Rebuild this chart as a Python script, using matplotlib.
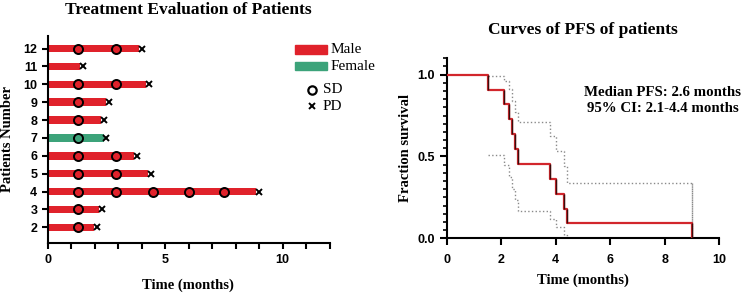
import matplotlib
matplotlib.use('Agg')
import matplotlib.pyplot as plt
from matplotlib.lines import Line2D
from matplotlib.patches import Rectangle

# swimmer plot data (patients 2..12)
patients = [2, 3, 4, 5, 6, 7, 8, 9, 10, 11, 12]
sex = ['M', 'M', 'M', 'M', 'M', 'F', 'M', 'M', 'M', 'M', 'M']
pd_time = [2.1, 2.3, 9.0, 4.4, 3.8, 2.5, 2.4, 2.6, 4.3, 1.5, 4.0]
sd_times = [[1.3], [1.3], [1.3, 2.9, 4.5, 6.0, 7.5], [1.3, 2.9], [1.3, 2.9],
            [1.3], [1.3], [1.3], [1.3, 2.9], [], [1.3, 2.9]]

# Kaplan-Meier PFS curve
km_t = [0, 1.5, 2.1, 2.3, 2.4, 2.5, 2.6, 3.8, 4.0, 4.3, 4.4, 9.0]
km_s = [1.0, 0.909, 0.818, 0.727, 0.636, 0.545, 0.455, 0.364, 0.273, 0.182, 0.091, 0.0]
ci_up_t = [1.5, 2.1, 2.3, 2.4, 2.5, 2.6, 3.8, 4.0, 4.3, 4.4, 9.0]
ci_up = [0.99, 0.96, 0.91, 0.84, 0.77, 0.71, 0.625, 0.535, 0.44, 0.335, 0.0]
ci_lo_t = [1.5, 2.1, 2.3, 2.4, 2.5, 2.6, 3.8, 4.0, 4.3, 4.4]
ci_lo = [0.51, 0.45, 0.375, 0.30, 0.235, 0.168, 0.12, 0.07, 0.02, 0.0]

RED = '#e0222b'
GREEN = '#3ca37a'
serif = 'Liberation Serif'
sans = 'Liberation Sans'

fig = plt.figure(figsize=(7.44, 2.95), dpi=100)

# ---------------- left: swimmer plot ----------------
ax1 = fig.add_axes([0.0641, 0.176, 0.3788, 0.702])
for p, s, t, sds in zip(patients, sex, pd_time, sd_times):
    c = RED if s == 'M' else GREEN
    ax1.barh(p, t - 0.12, height=0.42, left=0, color=c, zorder=2)
    ax1.plot(sds, [p] * len(sds), 'o', ms=6.5, mfc=c, mec='black', mew=1.4, zorder=3)
    ax1.plot([t], [p], 'x', ms=5, color='black', mew=1.4, zorder=4)

ax1.set_xlim(0, 12)
ax1.set_ylim(1.12, 12.7)
ax1.set_xticks(range(0, 13))
ax1.set_xticklabels([str(i) if i % 5 == 0 else '' for i in range(0, 13)])
ax1.set_yticks(patients)
for sp in ['top', 'right']:
    ax1.spines[sp].set_visible(False)
for sp in ['left', 'bottom']:
    ax1.spines[sp].set_linewidth(1.5)
ax1.tick_params(width=1.5, length=4)
ax1.tick_params(axis='x', pad=4)
for lab in ax1.get_xticklabels() + ax1.get_yticklabels():
    lab.set_fontfamily(sans)
    lab.set_fontweight('bold')
    lab.set_fontsize(9)
fig.text(8 / 744, 1 - 139.5 / 295, 'Patients Number', rotation=90, ha='center', va='center',
         fontfamily=serif, fontweight='bold', fontsize=10.5)
fig.text(188 / 744, 1 - 285 / 295, 'Time (months)', ha='center', va='center',
         fontfamily=serif, fontweight='bold', fontsize=10.5)
fig.text(188 / 744, 1 - 9.5 / 295, 'Treatment Evaluation of Patients', ha='center', va='center',
         fontfamily=serif, fontweight='bold', fontsize=12.5)

# manual legend
fig.patches.append(Rectangle((295 / 744, 1 - 53.5 / 295), 32 / 744, 8 / 295,
                             color=RED, transform=fig.transFigure))
fig.patches.append(Rectangle((295 / 744, 1 - 70 / 295), 32 / 744, 8 / 295,
                             color=GREEN, transform=fig.transFigure))
fig.text(331 / 744, 1 - 49.5 / 295, 'Male', va='center', fontfamily=serif, fontsize=11)
fig.text(331 / 744, 1 - 66 / 295, 'Female', va='center', fontfamily=serif, fontsize=11)
fig.lines.append(Line2D([312 / 744], [1 - 89.5 / 295], marker='o', ms=6, mfc='none',
                        mec='black', mew=1.6, transform=fig.transFigure))
fig.lines.append(Line2D([312 / 744], [1 - 106 / 295], marker='x', ms=4.5, color='black',
                        mew=1.4, transform=fig.transFigure))
fig.text(323 / 744, 1 - 89.5 / 295, 'SD', va='center', fontfamily=serif, fontsize=11)
fig.text(323 / 744, 1 - 106 / 295, 'PD', va='center', fontfamily=serif, fontsize=11)

# ---------------- right: PFS curve ----------------
ax2 = fig.add_axes([0.6004, 0.1922, 0.3664, 0.6102])
ax2.step(ci_up_t, ci_up, where='post', color='#8a8a8a', ls=':', lw=1.0, zorder=2)
ax2.plot([ci_up_t[-1], ci_up_t[-1]], [ci_up[-2], ci_up[-1]], color='#8a8a8a', ls=':', lw=1.0)
ax2.step(ci_lo_t, ci_lo, where='post', color='#8a8a8a', ls=':', lw=1.0, zorder=2)
ax2.step(km_t, km_s, where='post', color='#d2262c', lw=1.6, zorder=3)
ax2.vlines(km_t[1:], km_s[1:], km_s[:-1], color='#3a0d0d', lw=1.0, zorder=4)

ax2.set_xlim(0, 10)
ax2.set_ylim(0, 1.1)
ax2.set_xticks([0, 2, 4, 6, 8, 10])
ax2.set_yticks([0.0, 0.5, 1.0])
ax2.set_yticks([i * 0.05 for i in range(23)], minor=True)
for sp in ['top', 'right']:
    ax2.spines[sp].set_visible(False)
for sp in ['left', 'bottom']:
    ax2.spines[sp].set_linewidth(1.5)
ax2.tick_params(which='major', width=1.5, length=5)
ax2.tick_params(which='minor', width=1.2, length=3)
ax2.tick_params(axis='x', pad=6)
for lab in ax2.get_xticklabels() + ax2.get_yticklabels():
    lab.set_fontfamily(sans)
    lab.set_fontweight('bold')
    lab.set_fontsize(9)
ax2.set_xlabel('Time (months)', fontfamily=serif, fontweight='bold', fontsize=10.5, labelpad=6)
fig.text(406 / 744, 1 - 148 / 295, 'Fraction survival', rotation=90, ha='center', va='center',
         fontfamily=serif, fontweight='bold', fontsize=10.5)
fig.text(583 / 744, 1 - 29.5 / 295, 'Curves of PFS of patients', ha='center', va='center',
         fontfamily=serif, fontweight='bold', fontsize=12.5)
fig.text(0.891, 1 - 92 / 295, 'Median PFS: 2.6 months', ha='center', va='center',
         fontfamily=serif, fontweight='bold', fontsize=10.7)
fig.text(0.891, 1 - 108.5 / 295, '95% CI: 2.1-4.4 months', ha='center', va='center',
         fontfamily=serif, fontweight='bold', fontsize=10.7)

fig.savefig('out.png', dpi=100)
